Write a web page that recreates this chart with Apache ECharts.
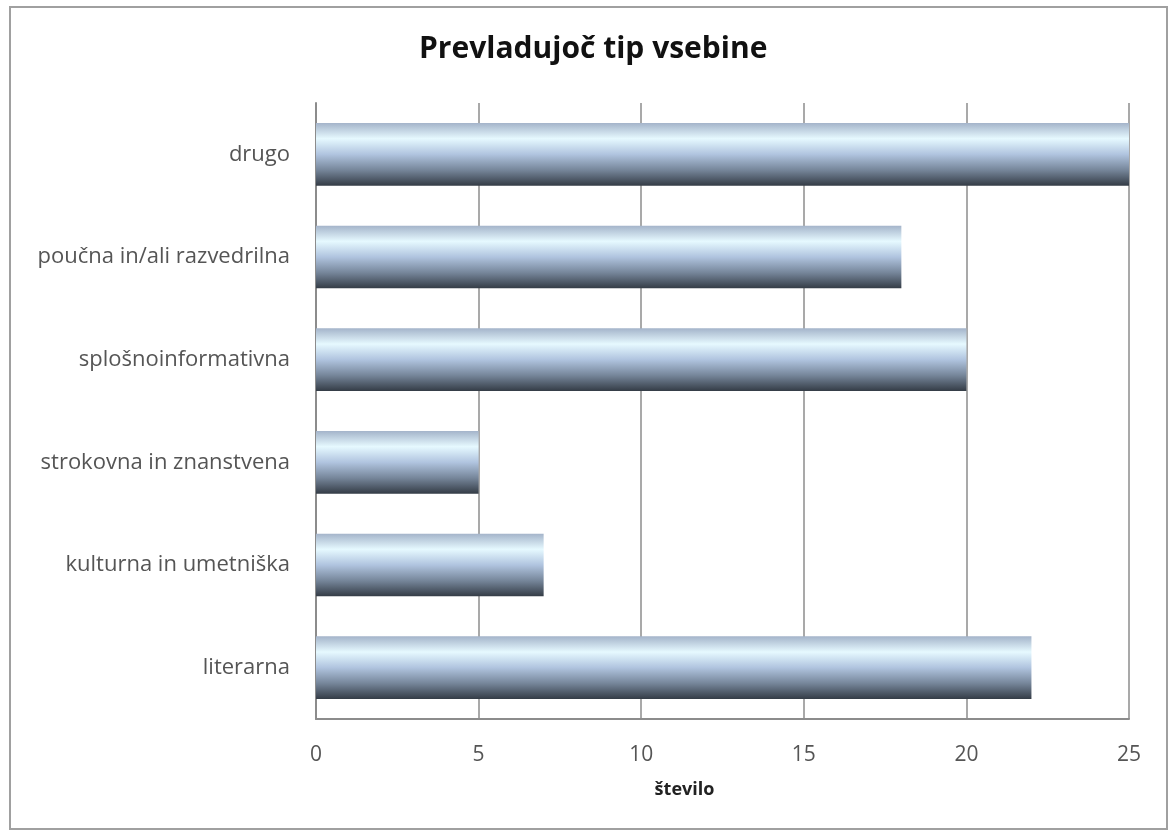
<!DOCTYPE html>
<html>
<head>
<meta charset="utf-8">
<script src="https://cdn.jsdelivr.net/npm/echarts@6/dist/echarts.min.js"></script>
<style>
  html, body { margin: 0; padding: 0; background: #fff; }
  #chart { width: 1176px; height: 836px; }
</style>
</head>
<body>
<div id="chart"></div>
<script>
// Content categories, listed bottom to top
const categories = [
  'literarna',
  'kulturna in umetniška',
  'strokovna in znanstvena',
  'splošnoinformativna',
  'poučna in/ali razvedrilna',
  'drugo'
];
const counts = [22, 7, 5, 20, 18, 25];
const xTicks = [0, 5, 10, 15, 20, 25];

const chart = echarts.init(document.getElementById('chart'), null, { renderer: 'canvas' });

const FONT = '"Open Sans", Lato, sans-serif';

const barFill = new echarts.graphic.LinearGradient(0, 0, 0, 1, [
  { offset: 0.0, color: '#a4b4ca' },
  { offset: 0.25, color: '#e6f9ff' },
  { offset: 0.5, color: '#b0c4df' },
  { offset: 0.75, color: '#76869a' },
  { offset: 1.0, color: '#343c46' }
]);

chart.setOption({
  animation: false,
  backgroundColor: '#ffffff',
  textStyle: { fontFamily: FONT },
  title: {
    text: 'Prevladujoč tip vsebine',
    left: 414,
    top: 29,
    textStyle: { fontFamily: FONT, fontSize: 30, fontWeight: 'bold', color: '#111' }
  },
  graphic: [{
    type: 'rect',
    shape: { x: 10, y: 7, width: 1157, height: 822 },
    style: { fill: 'none', stroke: '#a0a0a0', lineWidth: 2 },
    silent: true
  }],
  grid: { left: 316, right: 47, top: 103, bottom: 117, containLabel: false },
  xAxis: {
    type: 'value',
    min: xTicks[0],
    max: xTicks[xTicks.length - 1],
    interval: 5,
    name: 'število',
    nameLocation: 'middle',
    nameGap: 62,
    nameTextStyle: {
      fontFamily: FONT, fontSize: 18, fontWeight: 'bold', color: '#222',
      padding: [0, 76, 0, 0]
    },
    axisLine: { show: true, lineStyle: { color: '#8c8c8c', width: 2 } },
    axisTick: { show: false },
    axisLabel: { fontFamily: FONT, fontSize: 21, color: '#555', margin: 26 },
    splitLine: { show: true, lineStyle: { color: '#8c8c8c', width: 1.5 } }
  },
  yAxis: {
    type: 'category',
    data: categories,
    axisLine: { show: true, lineStyle: { color: '#8c8c8c', width: 2 } },
    axisTick: { show: false },
    axisLabel: { fontFamily: FONT, fontSize: 22, color: '#555', margin: 26 },
    splitLine: { show: false }
  },
  series: [{
    type: 'bar',
    data: counts,
    barWidth: '61%',
    itemStyle: { color: barFill },
    silent: true
  }]
});
</script>
</body>
</html>
